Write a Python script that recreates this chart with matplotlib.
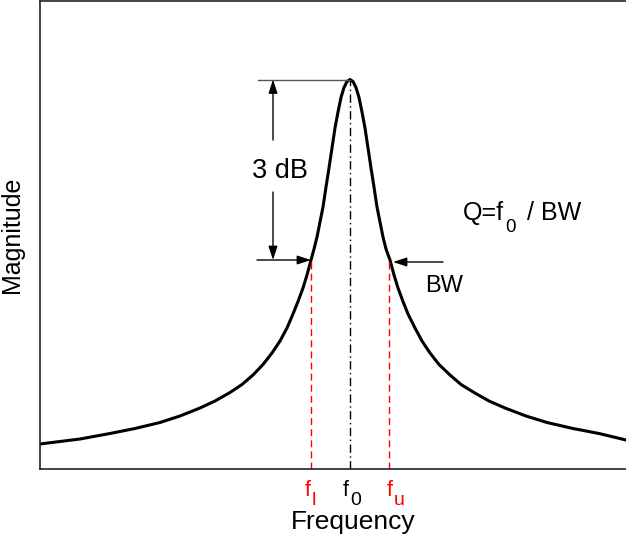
import matplotlib
matplotlib.use("Agg")
import matplotlib.pyplot as plt

plt.rcParams['font.family'] = ['Liberation Sans', 'DejaVu Sans']

# Resonance curve (arbitrary units)
freq = [0, 40, 70, 95, 120, 140, 160, 175, 190, 202, 213, 223, 232, 240, 247,
        253, 258, 263, 267, 271, 274, 277, 280, 283, 286, 289, 292, 295, 298,
        301, 304, 307, 310,
        313, 316, 319, 322, 325, 328, 331, 334, 337, 340, 343, 346, 350, 354,
        358, 363, 368, 375, 382, 390, 399, 410, 421, 434, 449, 465, 486, 507,
        533, 559, 586]
magnitude = [25, 30, 35.5, 40.5, 46.5, 53, 61, 68, 76.5, 84.5, 94, 104.5, 116,
             128, 141, 155, 167.5, 181, 194, 209, 220, 232, 247, 262, 282, 301,
             321, 341, 357, 371.5, 381.5, 387.5, 389.5,
             387.5, 381.5, 371.5, 357, 341, 321, 301, 282, 262, 247, 232, 220,
             209, 194, 181, 167.5, 155, 141, 128, 116, 104.5, 94, 84.5, 76.5,
             68, 61, 53, 46.5, 40.5, 35.5, 29]

f_lower, f_center, f_upper = 271, 310, 349
peak_mag = 389.5
half_mag = 209
tick_main = ['f', 'f', 'f']
tick_subs = ['l', '0', 'u']
tick_colors = ['red', 'black', 'red']

PX = 0.72  # points per pixel at 100 dpi

fig = plt.figure(figsize=(6.26, 5.37), dpi=100)
ax = fig.add_axes([40/626, 68/537, 586/626, 468/537])
ax.set_xlim(0, 586)
ax.set_ylim(0, 468)

ax.plot(freq, magnitude, color='black', lw=2.2, solid_joinstyle='round',
        solid_capstyle='round')

# vertical markers
ax.plot([f_lower, f_lower], [0, half_mag], color='red', lw=1, ls=(0, (5, 3)))
ax.plot([f_upper, f_upper], [0, half_mag], color='red', lw=1, ls=(0, (5, 3)))
ax.plot([f_center, f_center], [0, peak_mag], color='black', lw=1,
        ls=(0, (6, 2.5, 1, 2.5)))

# peak reference line
ax.plot([218, f_center], [peak_mag, peak_mag], color='#555555', lw=1)

arrow = dict(arrowstyle='-|>,head_length=0.55,head_width=0.18', color='black',
             lw=1, shrinkA=0, shrinkB=0, mutation_scale=15)
ax.annotate('', xy=(233, peak_mag), xytext=(233, 329), arrowprops=arrow)
ax.annotate('', xy=(233, half_mag), xytext=(233, 277), arrowprops=arrow)
ax.annotate('', xy=(f_lower, half_mag), xytext=(217, half_mag), arrowprops=arrow)
ax.annotate('', xy=(353, 207), xytext=(403, 207), arrowprops=arrow)

ax.text(239.5, 298, '3 dB', fontsize=19.5, ha='center', va='center')

# Q = f0 / BW with a large, low subscript
ax.text(423, 249, 'Q=f', fontsize=18, ha='left', va='baseline')
ax.text(465, 237, '0', fontsize=13.5, ha='left', va='baseline')
ax.text(487, 249, '/ BW', fontsize=18, ha='left', va='baseline')

ax.text(385, 183, 'BW', fontsize=17, ha='left', va='center')

# frequency marks below the axis
main_dx = [-6, -7, -2]
sub_dx = [1, 0, 5]
for pos, m, s, c, mdx, sdx in zip([f_lower, f_center, f_upper], tick_main,
                                  tick_subs, tick_colors, main_dx, sub_dx):
    ax.annotate(m, xy=(pos, 0), xytext=(mdx * PX, -27 * PX),
                textcoords='offset points', fontsize=15.5, color=c,
                ha='left', va='baseline', annotation_clip=False)
    ax.annotate(s, xy=(pos, 0), xytext=(sdx * PX, -36 * PX),
                textcoords='offset points', fontsize=14, color=c,
                ha='left', va='baseline', annotation_clip=False)

ax.set_xticks([])
ax.set_yticks([])

ax.set_xlabel('Frequency', fontsize=19)
ax.xaxis.set_label_coords((353-40)/586, -0.087)
ax.set_ylabel('Magnitude', fontsize=18)
ax.yaxis.set_label_coords(-0.027, 0.5)

ax.spines['right'].set_visible(False)
for s in ['left', 'bottom', 'top']:
    ax.spines[s].set_color('#222222')
    ax.spines[s].set_linewidth(1.2)

fig.savefig('out.png', dpi=100)
